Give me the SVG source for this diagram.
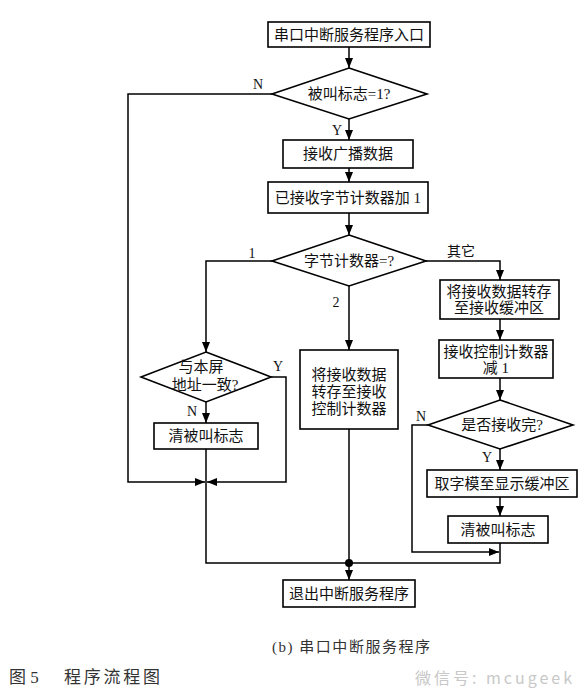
<svg xmlns="http://www.w3.org/2000/svg" width="584" height="700" viewBox="0 0 584 700">
<defs>
<marker id="ah" markerWidth="10" markerHeight="8" refX="10" refY="4" orient="auto" markerUnits="userSpaceOnUse">
<path d="M0,0 L10,4 L0,8 Z" fill="#000"/>
</marker>
<style>
.n{fill:#fff;stroke:#000;stroke-width:1.6}
.t{font-family:"Liberation Serif","Noto Sans CJK SC",serif;font-size:15px;fill:#111;text-anchor:middle;dominant-baseline:central}
.l{font-family:"Liberation Serif","Noto Sans CJK SC",serif;font-size:14px;fill:#111;text-anchor:middle;dominant-baseline:central}
.c{fill:none;stroke:#000;stroke-width:1.5}
.a{marker-end:url(#ah)}
.cap{font-family:"Liberation Serif","Noto Sans CJK SC",serif;fill:#333;dominant-baseline:central}
</style>
</defs>
<rect width="584" height="700" fill="#fff"/>
<g id="connectors">
<path class="c a" d="M349,47 V68"/>
<path class="c a" d="M349,119 V140"/>
<path class="c a" d="M349,168 V182"/>
<path class="c a" d="M349,213 V235"/>
<path class="c a" d="M272,94 H128 V482 H205"/>
<path class="c a" d="M272,261 H206 V352"/>
<path class="c a" d="M349,286 V350"/>
<path class="c a" d="M426,261 H500 V280"/>
<path class="c a" d="M500,319 V340"/>
<path class="c a" d="M500,378 V400"/>
<path class="c a" d="M500,449 V470"/>
<path class="c a" d="M500,497 V516"/>
<path class="c a" d="M428,425 H412 V552 H499"/>
<path class="c" d="M500,543 V563 H349"/>
<path class="c a" d="M206,402 V423"/>
<path class="c a" d="M271,377 H286 V482 H207"/>
<path class="c" d="M206,449 V563 H349"/>
<path class="c a" d="M349,429 V580"/>
<circle cx="349" cy="563" r="4" fill="#000"/>
<text class="l" x="258" y="84">N</text>
<text class="l" x="337" y="130">Y</text>
<text class="l" x="252" y="253">1</text>
<text class="l" x="336" y="302">2</text>
<text class="l" x="461" y="251">其它</text>
<text class="l" x="278" y="366">Y</text>
<text class="l" x="192" y="411">N</text>
<text class="l" x="421" y="416">N</text>
<text class="l" x="487" y="457">Y</text>
</g>
<g id="start">
<rect class="n" x="268" y="22" width="162" height="25"/>
<text class="t" x="349" y="35">串口中断服务程序入口</text>
</g>
<g id="d1">
<polygon class="n" points="349,68 427,94 349,119 272,94"/>
<text class="t" x="349" y="94">被叫标志=1?</text>
</g>
<g id="recv">
<rect class="n" x="283" y="140" width="130" height="28"/>
<text class="t" x="348" y="154">接收广播数据</text>
</g>
<g id="count">
<rect class="n" x="268" y="182" width="160" height="31"/>
<text class="t" x="348" y="198">已接收字节计数器加 1</text>
</g>
<g id="d2">
<polygon class="n" points="349,235 426,261 349,286 272,261"/>
<text class="t" x="349" y="261">字节计数器=?</text>
</g>
<g id="d3">
<polygon class="n" points="206,352 271,377 206,402 141,377"/>
<text class="t" x="201" y="367">与本屏</text>
<text class="t" x="205" y="385">地址一致?</text>
</g>
<g id="clr1">
<rect class="n" x="154" y="423" width="104" height="26"/>
<text class="t" x="206" y="436">清被叫标志</text>
</g>
<g id="mid">
<rect class="n" x="300" y="350" width="98" height="79"/>
<text class="t" x="349" y="375">将接收数据</text>
<text class="t" x="349" y="392">转存至接收</text>
<text class="t" x="349" y="409">控制计数器</text>
</g>
<g id="buf">
<rect class="n" x="440" y="280" width="119" height="39"/>
<text class="t" x="499" y="292">将接收数据转存</text>
<text class="t" x="499" y="308">至接收缓冲区</text>
</g>
<g id="dec">
<rect class="n" x="439" y="340" width="114" height="38"/>
<text class="t" x="496" y="352">接收控制计数器</text>
<text class="t" x="496" y="368">减 1</text>
</g>
<g id="d4">
<polygon class="n" points="500,400 573,425 500,449 428,425"/>
<text class="t" x="502" y="425">是否接收完?</text>
</g>
<g id="font">
<rect class="n" x="427" y="470" width="150" height="27"/>
<text class="t" x="502" y="484">取字模至显示缓冲区</text>
</g>
<g id="clr2">
<rect class="n" x="448" y="516" width="100" height="27"/>
<text class="t" x="498" y="530">清被叫标志</text>
</g>
<g id="exit">
<rect class="n" x="283" y="580" width="132" height="27"/>
<text class="t" x="349" y="594">退出中断服务程序</text>
</g>
<g id="captions">
<text class="cap" x="272" y="647" font-size="15" textLength="158" lengthAdjust="spacing">(b) 串口中断服务程序</text>
<text class="cap" x="9" y="677" font-size="17">图 5</text>
<text class="cap" x="64" y="677" font-size="17" textLength="96" lengthAdjust="spacing">程序流程图</text>
<text x="415" y="677" font-family="'Noto Sans CJK SC',sans-serif" font-size="16" fill="#c8c8c8" dominant-baseline="central" textLength="157" lengthAdjust="spacing">微信号: mcugeek</text>
</g>
</svg>
